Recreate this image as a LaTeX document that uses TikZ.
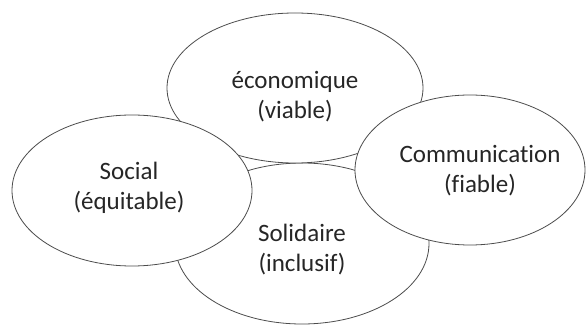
\documentclass[tikz,border=0pt]{standalone}
\usepackage{fontspec}
\setmainfont{Carlito}[Ligatures=CommonOff]
\usepackage{tikz}
\usetikzlibrary{shapes.geometric}
\begin{document}
\begin{tikzpicture}[
    x=1pt,y=-1pt,
    bubble/.style={ellipse,draw=black!70,line width=0.8pt,fill=white,inner sep=0pt},
    main node/.style={align=center,font=\fontsize{25}{30}\selectfont,text=black!85}
    ]
    \useasboundingbox (0,0) rectangle (587,326);
    % ellipses
    % solidaire
    \node [bubble,minimum width=254,minimum height=161] (solidaire) at (302,243.5) {};
    % economique
    \node [bubble,minimum width=256,minimum height=150] (economique) at (295,88) {};
    % social
    \node [bubble,minimum width=240,minimum height=151] (social) at (132,190.5) {};
    % communication
    \node [bubble,minimum width=230,minimum height=150] (communication) at (470,170) {};
    % texts
    \node [main node] (solidaire text) at (302,249.5) {Solidaire\\(inclusif)};
    \node [main node] (economique text) at (295,96.5) {économique\\(viable)};
    \node [main node] (social text) at (129,187.5) {Social\\(équitable)};
    \node [main node] (communication text) at (480,170.5) {Communication\\(fiable)};
\end{tikzpicture}
\end{document}
